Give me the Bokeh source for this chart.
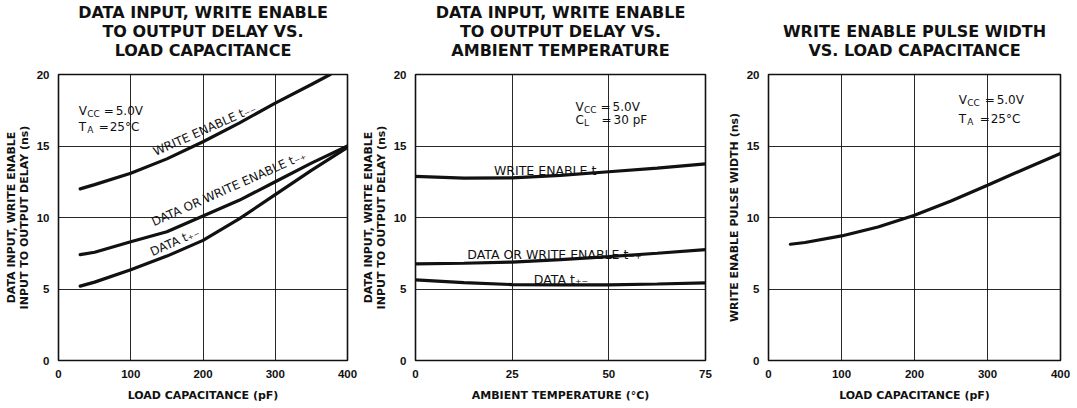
from bokeh.plotting import figure
from bokeh.layouts import row
from bokeh.models import Range1d, Title
from bokeh.core.properties import value
from bokeh.embed import file_html
from bokeh.resources import INLINE

# ---------------- data ----------------
# Panel 1: delay vs load capacitance
cap1_we = [30, 50, 100, 150, 200, 250, 300, 350, 376]
dly1_we = [12.0, 12.3, 13.1, 14.1, 15.3, 16.6, 18.0, 19.3, 20.0]
cap1 = [30, 50, 100, 150, 200, 250, 300, 350, 400]
dly1_dwe = [7.4, 7.57, 8.3, 9.0, 10.1, 11.2, 12.5, 13.8, 15.0]
dly1_data = [5.2, 5.48, 6.35, 7.3, 8.4, 9.9, 11.6, 13.3, 14.9]

# Panel 2: delay vs ambient temperature
temp2 = [0, 12.5, 25, 37.5, 50, 62.5, 75]
dly2_we = [12.87, 12.75, 12.77, 12.95, 13.2, 13.45, 13.75]
dly2_dwe = [6.76, 6.8, 6.88, 7.05, 7.27, 7.5, 7.76]
dly2_data = [5.64, 5.45, 5.31, 5.29, 5.29, 5.35, 5.43]

# Panel 3: write enable pulse width vs load capacitance
cap3 = [30, 50, 100, 150, 200, 250, 300, 350, 400]
pw3 = [8.13, 8.25, 8.71, 9.34, 10.16, 11.16, 12.26, 13.38, 14.48]

cap_ticks = [0, 100, 200, 300, 400]
temp_ticks = [0, 25, 50, 75]
ns_ticks = [0, 5, 10, 15, 20]

titles = [
    ["DATA INPUT, WRITE ENABLE", "TO OUTPUT DELAY VS.", "LOAD CAPACITANCE"],
    ["DATA INPUT, WRITE ENABLE", "TO OUTPUT DELAY VS.", "AMBIENT TEMPERATURE"],
    ["WRITE ENABLE PULSE WIDTH", "VS. LOAD CAPACITANCE"],
]
xlabels = ["LOAD CAPACITANCE (pF)", "AMBIENT TEMPERATURE (°C)", "LOAD CAPACITANCE (pF)"]
ylabels = ["DATA INPUT, WRITE ENABLE\nINPUT TO OUTPUT DELAY (ns)",
           "DATA INPUT, WRITE ENABLE\nINPUT TO OUTPUT DELAY (ns)",
           "WRITE ENABLE PULSE WIDTH (ns)"]

# ---------------- styling ----------------
INK = "#111111"
TITLE_FONT = "DejaVu Sans"
TICK_FONT = "Liberation Sans"
ANN_FONT = "DejaVu Sans"


def title_line(text, standoff, size="16px", color=INK):
    kw = dict(text=text, align="center", vertical_align="bottom", text_font=TITLE_FONT,
              text_font_style="bold", text_font_size=size, text_color=color,
              text_line_height=1.0, offset=0)
    try:
        return Title(standoff=standoff, **kw)
    except Exception:
        return Title(standoff=max(standoff, 0), **kw)


def make_fig(width, xr, xticks, bl, br, title_lines, xlabel, ylabel):
    p = figure(width=width, height=408, x_range=Range1d(*xr), y_range=Range1d(0, 20),
               output_backend="svg", toolbar_location=None,
               min_border_left=bl, min_border_right=br, min_border_top=74, min_border_bottom=48)
    p.title.visible = False
    p.background_fill_color = "white"
    p.border_fill_color = "white"
    p.outline_line_color = INK
    p.outline_line_width = 1.6
    # gap between the title block and the frame (tiny white dot as spacer)
    p.add_layout(title_line(".", 12, size="2px", color="white"), "above")
    # title lines: first added sits closest to the frame
    for line in reversed(title_lines):
        p.add_layout(title_line(line, -2.5), "above")
    p.xaxis.ticker = xticks
    p.yaxis.ticker = ns_ticks
    for ax in (p.xaxis[0], p.yaxis[0]):
        ax.axis_line_color = None
        ax.major_tick_line_color = None
        ax.minor_tick_line_color = None
        ax.major_tick_out = 0
        ax.major_tick_in = 0
        ax.minor_tick_out = 0
        ax.minor_tick_in = 0
        ax.major_label_text_font = TICK_FONT
        ax.major_label_text_font_style = "bold"
        ax.major_label_text_font_size = "11.5px"
        ax.major_label_text_color = INK
        ax.major_label_standoff = 9
        ax.axis_label_text_font = TITLE_FONT
        ax.axis_label_text_font_style = "bold"
        ax.axis_label_text_font_size = "11px"
        ax.axis_label_text_color = INK
        ax.axis_label_standoff = 3
        ax.axis_label_text_line_height = 1.0
    p.xaxis.axis_label = xlabel
    p.yaxis.axis_label = ylabel
    p.xaxis.axis_label_standoff = 8
    p.grid.grid_line_color = INK
    p.grid.grid_line_width = 1
    p.grid.grid_line_alpha = 0.9
    return p


def cond_text(p, x, y, main, sub, rest_parts):
    """e.g. V_CC = 5.0V : main letter, subscript, then pieces with pixel offsets."""
    p.text(x=[x], y=[y], text=[main], text_font=value(ANN_FONT), text_font_size="12px",
           text_color=INK, text_align="left", text_baseline="alphabetic")
    p.text(x=[x], y=[y], text=[sub], x_offset=8.5, y_offset=3, text_font=value(ANN_FONT),
           text_font_size="9px", text_color=INK, text_align="left", text_baseline="alphabetic")
    for txt, off in rest_parts:
        p.text(x=[x], y=[y], text=[txt], x_offset=off, text_font=value(ANN_FONT),
               text_font_size="12px", text_color=INK, text_align="left",
               text_baseline="alphabetic")


def curve_label(p, x, y, txt, angle=0, size="12.5px"):
    p.text(x=[x], y=[y], text=[txt], angle=angle, angle_units="deg",
           text_font=value(ANN_FONT), text_font_size=size, text_color=INK,
           text_align="left", text_baseline="alphabetic")


LW = 3.2

# ---------------- panel 1 ----------------
p1 = make_fig(358, (0, 400), cap_ticks, 58, 11, titles[0], xlabels[0], ylabels[0])
p1.line(cap1_we, dly1_we, line_width=LW, line_color=INK, line_cap="round")
p1.line(cap1, dly1_dwe, line_width=LW, line_color=INK, line_cap="round")
p1.line(cap1, dly1_data, line_width=LW, line_color=INK, line_cap="round")
curve_label(p1, 132, 14.55, "WRITE ENABLE t\u208b\u208b", 24, "12px")
curve_label(p1, 130, 9.65, "DATA OR WRITE ENABLE t\u208b\u208a", 24, "12px")
curve_label(p1, 128, 7.55, "DATA t\u208a\u208b", 24, "12px")
cond_text(p1, 28, 17.48, "V", "CC", [("=", 25), ("5.0V", 37)])
cond_text(p1, 28, 16.3, "T", "A", [("=", 20), ("25°C", 31)])

# ---------------- panel 2 ----------------
p2 = make_fig(362, (0, 75), temp_ticks, 57, 15, titles[1], xlabels[1], ylabels[1])
p2.line(temp2, dly2_we, line_width=LW, line_color=INK, line_cap="round")
p2.line(temp2, dly2_dwe, line_width=LW, line_color=INK, line_cap="round")
p2.line(temp2, dly2_data, line_width=LW, line_color=INK, line_cap="round")
curve_label(p2, 20.3, 13.3, "WRITE ENABLE t\u208b\u208b")
curve_label(p2, 13.4, 7.41, "DATA OR WRITE ENABLE t\u208b\u208a")
curve_label(p2, 30.6, 5.64, "DATA t\u208a\u208b")
cond_text(p2, 41.4, 17.7, "V", "CC", [("=", 25), ("5.0V", 37)])
cond_text(p2, 41.4, 16.8, "C", "L", [("=", 26), ("30 pF", 38)])

# ---------------- panel 3 ----------------
p3 = make_fig(357, (0, 400), cap_ticks, 48, 17, titles[2], xlabels[2], ylabels[2])
p3.line(cap3, pw3, line_width=LW, line_color=INK, line_cap="round")
cond_text(p3, 260.5, 18.2, "V", "CC", [("=", 26), ("5.0V", 38)])
cond_text(p3, 260.5, 16.9, "T", "A", [("=", 21), ("25°C", 32)])

layout = row(p1, p2, p3)
open("out.html", "w").write(file_html(layout, INLINE))
